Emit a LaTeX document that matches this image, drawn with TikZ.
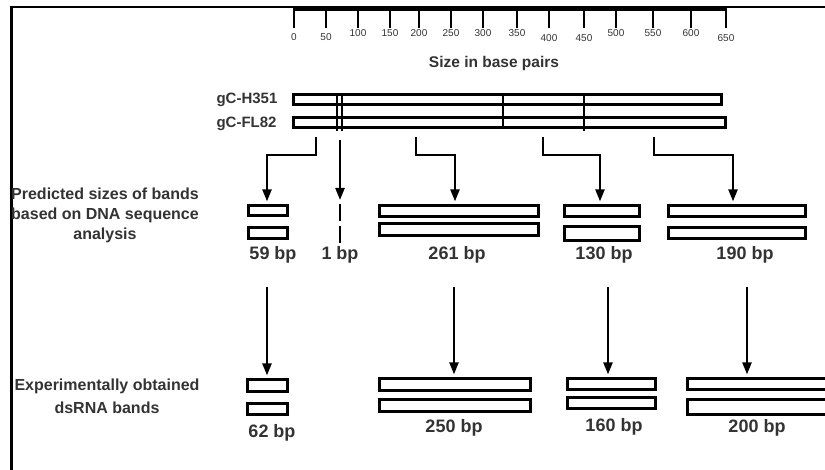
\documentclass[tikz,border=0pt]{standalone}
\usepackage{fontspec}
\setmainfont{Liberation Sans}
\usetikzlibrary{arrows.meta,positioning}
\definecolor{labelgray}{HTML}{333333}

\begin{document}
\begin{tikzpicture}[x=1pt,y=-1pt,
    band/.style={draw,rectangle,line width=2.8pt,inner sep=0pt,outer sep=0pt},
    arr/.style={-{Triangle[length=12pt,width=9pt]},line width=2.3pt,shorten >=4pt},
    lbl/.style={text=labelgray,font=\bfseries\fontsize{18}{21}\selectfont},
    side/.style={text=labelgray,font=\bfseries\fontsize{16}{20}\selectfont,align=center}]
  \useasboundingbox (0,0) rectangle (825,470);
  \clip (0,0) rectangle (825,470);

  % frame
  \draw[line width=2.4pt] (11.5,490) |- (850,7);

  % ruler
  \draw[line width=3.8pt] (293,9) -- (727,9);
  \foreach \x/\v/\ly in {294/0/37,326/50/37,358/100/33,390/150/33,419/200/33,
      451/250/33,483/300/33,517/350/33,549/400/38,584/450/38,616/500/33,
      653/550/33,691/600/33,726/650/38} {
    \draw[line width=2.8pt] (\x,11) -- (\x,28);
    \node[text=labelgray,font=\fontsize{10}{12}\selectfont] (t\v) at (\x,\ly) {\v};
  }
  \node[side,font=\bfseries\fontsize{15.5}{18}\selectfont] (scale) at (494,63) {Size in base pairs};

  % genes
  \begin{scope}[every node/.style={text=labelgray,anchor=west,font=\bfseries\fontsize{15}{18}\selectfont}]
    \node (nH) at (213,100) {gC-H351};
    \node (nF) at (213,124) {gC-FL82};
  \end{scope}
  \node[band,minimum width=428.2pt,minimum height=10.2pt] (gH) at (507.5,99.5) {};
  \node[band,minimum width=432.2pt,minimum height=10.2pt] (gF) at (509.5,122.5) {};
  \foreach \x/\yb in {337/131,342/131,503/129,584/131}
    \draw[line width=2.5pt] (\x,93) -- (\x,\yb);

  % side texts
  \node[side] (pred) at (105,215) {Predicted sizes of bands\\based on DNA sequence\\analysis};
  \node[side,font=\bfseries\fontsize{16}{23}\selectfont] (expt) at (107,396.5) {Experimentally obtained\\dsRNA bands};

  % predicted bands
  \node[band,minimum width=39.2pt,minimum height=10.2pt] (p59a) at (268,210.5) {};
  \node[band,minimum width=39.2pt,minimum height=11.2pt] (p59b) at (268,233) {};
  \draw[line width=2.6pt] (340,204) coordinate (d1top) -- (340,221);
  \draw[line width=2.6pt] (340,226) -- (340,243);
  \node[band,minimum width=159.2pt,minimum height=11.2pt] (p261a) at (459,211) {};
  \node[band,minimum width=159.2pt,minimum height=12.2pt] (p261b) at (459,229.5) {};
  \node[band,minimum width=75.2pt,minimum height=11.2pt] (p130a) at (602,211) {};
  \node[band,minimum width=75.2pt,minimum height=14.2pt] (p130b) at (602,233.5) {};
  \node[band,minimum width=137.2pt,minimum height=11.2pt] (p190a) at (737,211) {};
  \node[band,minimum width=137.2pt,minimum height=11.2pt] (p190b) at (737,233) {};

  \begin{scope}[every node/.style={lbl}]
    \node (l59) at (273,255) {59 bp};
    \node (l1) at (340,255) {1 bp};
    \node (l261) at (457,255) {261 bp};
    \node (l130) at (604,255) {130 bp};
    \node (l190) at (745,255) {190 bp};
  \end{scope}

  % experimental bands
  \node[band,minimum width=40.2pt,minimum height=12.2pt] (e62a) at (267.5,385.5) {};
  \node[band,minimum width=40.2pt,minimum height=11.2pt] (e62b) at (267.5,409) {};
  \node[band,minimum width=151.2pt,minimum height=12.2pt] (e250a) at (455,384.5) {};
  \node[band,minimum width=151.2pt,minimum height=12.2pt] (e250b) at (455,405.5) {};
  \node[band,minimum width=88.2pt,minimum height=11.2pt] (e160a) at (611.5,384) {};
  \node[band,minimum width=88.2pt,minimum height=11.2pt] (e160b) at (611.5,403) {};
  \node[band,minimum width=171.2pt,minimum height=11.2pt] (e200a) at (773,384) {};
  \node[band,minimum width=171.2pt,minimum height=15.2pt] (e200b) at (773,407) {};

  \begin{scope}[every node/.style={lbl}]
    \node (l62) at (272,433) {62 bp};
    \node (l250) at (454,428) {250 bp};
    \node (l160) at (614,427) {160 bp};
    \node (l200) at (757,428) {200 bp};
  \end{scope}

  % arrows
  \coordinate (a1) at (316,137);
  \coordinate (a2) at (340,140);
  \coordinate (a3) at (416,137);
  \coordinate (a4) at (543,137);
  \coordinate (a5) at (654,137);
  \draw[arr] (a1) -- ++(0,18) -| ([xshift=-1pt]p59a.north);
  \draw[arr] (a2) -- (d1top);
  \draw[arr] (a3) -- ++(0,18) -| ([xshift=-4pt]p261a.north);
  \draw[arr] (a4) -- ++(0,18) -| ([xshift=-2pt]p130a.north);
  \draw[arr] (a5) -- ++(0,18) -| ([xshift=-4pt]p190a.north);

  \coordinate (b1) at (267,287);
  \coordinate (b2) at (454,287);
  \coordinate (b3) at (608,287);
  \coordinate (b4) at (747,287);
  \draw[arr] (b1) -- (b1 |- e62a.north);
  \draw[arr] (b2) -- (b2 |- e250a.north);
  \draw[arr] (b3) -- (b3 |- e160a.north);
  \draw[arr] (b4) -- (b4 |- e200a.north);
\end{tikzpicture}
\end{document}
